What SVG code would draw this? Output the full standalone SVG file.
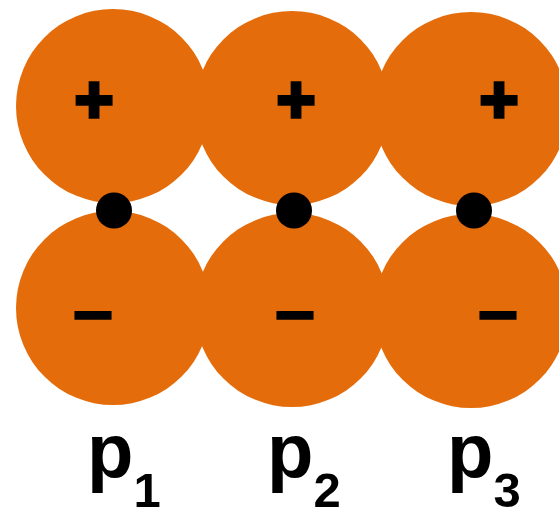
<svg xmlns="http://www.w3.org/2000/svg" width="559" height="508" viewBox="0 0 559 508">
<style>
.c{fill:#E46C0A}
.d{fill:#000}
.s{font-family:"Liberation Sans",Arial,sans-serif;font-weight:bold;fill:#000;text-anchor:middle}
.pl{font-size:67px;stroke:#000;stroke-width:3.4px}
.mi{font-size:72px;stroke:#000;stroke-width:1.5px}
.lb{font-family:"Liberation Sans",Arial,sans-serif;font-weight:bold;font-size:76px;fill:#000}
</style>
<rect width="559" height="508" fill="#fff"/>
<g id="top1"><circle class="c" cx="113" cy="106" r="97"/><text class="s pl" x="94" y="122">+</text></g>
<g id="top2"><circle class="c" cx="292" cy="108" r="97"/><text class="s pl" x="296" y="122">+</text></g>
<g id="top3"><circle class="c" cx="471" cy="109" r="97"/><text class="s pl" x="499" y="122">+</text></g>
<g id="bot1"><circle class="c" cx="113" cy="308" r="97"/><text class="s mi" x="93" y="334.5">–</text></g>
<g id="bot2"><circle class="c" cx="292" cy="310" r="97"/><text class="s mi" x="295" y="334.5">–</text></g>
<g id="bot3"><circle class="c" cx="471" cy="311" r="97"/><text class="s mi" x="498" y="334.5">–</text></g>
<g id="dot1"><circle class="d" cx="114" cy="210.5" r="18"/></g>
<g id="dot2"><circle class="d" cx="294" cy="210.5" r="18"/></g>
<g id="dot3"><circle class="d" cx="474" cy="210.5" r="18"/></g>
<g id="connectors"></g>
<g id="label1"><text class="lb" x="87" y="477">p<tspan font-size="49" dy="29.7">1</tspan></text></g>
<g id="label2"><text class="lb" x="267" y="477">p<tspan font-size="49" dy="29.7">2</tspan></text></g>
<g id="label3"><text class="lb" x="447" y="477">p<tspan font-size="49" dy="29.7">3</tspan></text></g>
</svg>
